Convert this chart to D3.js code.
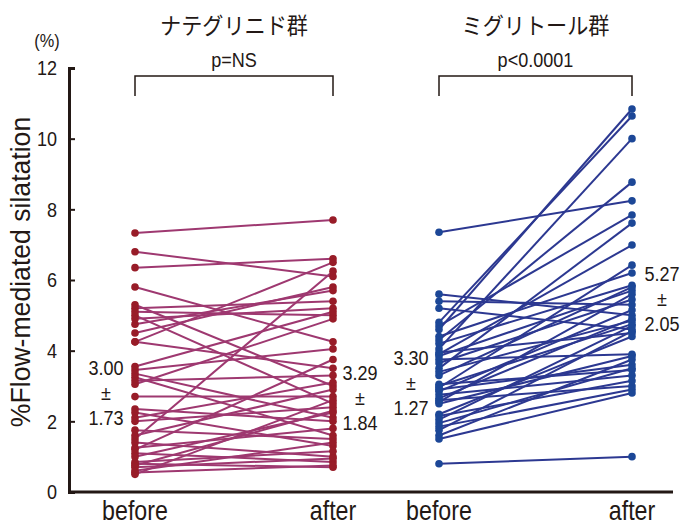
<!DOCTYPE html>
<html>
<head>
<meta charset="utf-8">
<script src="https://cdn.jsdelivr.net/npm/d3@7"></script>
<style>
  body { margin: 0; background: #fff; }
  text { font-family: "Liberation Sans", Arial, sans-serif; fill: #231815; }
  .jp { font-family: "Noto Sans CJK JP", sans-serif; }
</style>
</head>
<body>
<div id="chart"></div>
<script>
// group titles, p values, summary labels
const groups = ['ナテグリニド群', 'ミグリトール群'];
const pValues = ['p=NS', 'p<0.0001'];
const timeLabels = ['before', 'after'];
const yTicks = [0, 2, 4, 6, 8, 10, 12];
const summaryBefore = [['3.00', '1.73'], ['3.30', '1.27']];
const summaryAfter = [['3.29', '1.84'], ['5.27', '2.05']];

// [before, after] per patient, nateglinide
const nateglinide = [
	[7.33,7.7],[6.8,6.1],[6.35,6.6],[5.8,4.25],[5.3,3.0],[5.2,5.4],[5.1,5.0],[5.0,2.5],
	[4.9,5.2],[4.75,5.7],[4.5,5.8],[4.25,6.5],[4.25,3.5],[3.55,5.1],[3.45,4.05],[3.35,2.1],
	[3.25,1.6],[3.15,3.3],[3.05,4.9],[2.7,2.7],[2.35,2.0],[2.25,1.3],[2.1,3.1],[2.0,2.4],
	[1.75,1.5],[1.6,2.9],[1.5,6.25],[1.4,1.0],[1.25,1.8],[1.2,3.75],[1.1,0.85],[1.0,2.25],
	[0.85,1.15],[0.8,0.7],[0.75,2.3],[0.7,0.95],[0.6,1.4],[0.55,0.75],[0.5,2.6]
];

// [before, after] per patient, miglitol
const miglitol = [
	[7.35,8.24],[5.6,5.0],[5.4,5.3],[5.2,4.6],[4.8,10.64],[4.7,7.84],[4.6,10.84],[4.4,6.2],
	[4.3,8.77],[4.2,5.85],[4.05,10.0],[3.95,4.5],[3.9,6.99],[3.85,5.7],[3.75,3.9],[3.65,5.45],
	[3.5,7.61],[3.4,4.85],[3.3,5.8],[3.05,3.45],[3.0,4.75],[2.95,6.42],[2.9,3.6],[2.85,5.15],
	[2.75,3.3],[2.65,4.9],[2.6,3.0],[2.55,5.6],[2.5,3.85],[2.2,4.4],[2.15,3.15],[2.05,4.7],
	[1.95,3.5],[1.85,2.9],[1.75,4.55],[1.6,3.75],[1.5,2.8],[0.8,1.0]
];

const W = 686, H = 527;
const axisColor = '#231815';
const narrow = 0.86; //condensed look of the original type
const panels = [
	{data: nateglinide, x0: 135, x1: 333, line: '#9e3870', dot: '#981c28'},
	{data: miglitol, x0: 439, x1: 632, line: '#2c3891', dot: '#1c4797'}
];

const svg = d3.select('#chart').append('svg')
	.attr('width', W)
	.attr('height', H);

//narrow text helper
function label(parent, x, yy, t, size, anchor) {
	return parent.append('text')
		.attr('transform', `translate(${x},${yy}) scale(${narrow},1)`)
		.attr('text-anchor', anchor || 'middle')
		.style('font-size', size + 'px')
		.text(t);
}

const y = d3.scaleLinear().domain([0, 12]).range([492, 68]);

//axes
const yAxis = svg.append('g')
	.attr('transform', 'translate(69,0)')
	.call(d3.axisLeft(y).tickValues(yTicks).tickSize(-6).tickPadding(12));
yAxis.select('.domain').attr('stroke', axisColor).attr('stroke-width', 3);
yAxis.selectAll('.tick line').attr('stroke', axisColor).attr('stroke-width', 2);
yAxis.selectAll('.tick text')
	.style('font-size', '21px')
	.attr('fill', axisColor)
	.attr('transform', `scale(${narrow},1)`)
	.attr('x', -12 / narrow);

svg.append('line')
	.attr('x1', 68).attr('x2', 673)
	.attr('y1', y(0)).attr('y2', y(0))
	.attr('stroke', axisColor).attr('stroke-width', 3);

svg.append('text')
	.attr('transform', `translate(30,${y(6) - 8}) rotate(-90) scale(0.95,1)`)
	.attr('text-anchor', 'middle')
	.style('font-size', '28px')
	.text('%Flow-mediated silatation');

label(svg, 47, 47, '(%)', 19);

//panels
panels.forEach((p, i) => {
	const x = d3.scaleLinear().domain([0, 1]).range([p.x0, p.x1]);
	const g = svg.append('g').attr('class', 'panel');
	const mid = (p.x0 + p.x1) / 2;

	g.append('text')
		.attr('class', 'jp')
		.attr('transform', `translate(${mid},34) scale(0.92,1)`)
		.attr('text-anchor', 'middle')
		.style('font-size', '23px')
		.text(groups[i]);

	label(g, mid, 67, pValues[i], 21);

	g.append('path')
		.attr('d', `M${x(0)},96V76H${x(1)}V96`)
		.attr('fill', 'none')
		.attr('stroke', axisColor)
		.attr('stroke-width', 1.5);

	g.selectAll('.pair')
		.data(p.data)
		.enter()
		.append('line')
		.attr('class', 'pair')
		.attr('x1', x(0)).attr('x2', x(1))
		.attr('y1', d => y(d[0])).attr('y2', d => y(d[1]))
		.attr('stroke', p.line)
		.attr('stroke-width', 2);

	g.selectAll('.dot-before')
		.data(p.data)
		.enter()
		.append('circle')
		.attr('cx', x(0)).attr('cy', d => y(d[0]))
		.attr('r', 3.8)
		.attr('fill', p.dot);

	g.selectAll('.dot-after')
		.data(p.data)
		.enter()
		.append('circle')
		.attr('cx', x(1)).attr('cy', d => y(d[1]))
		.attr('r', 3.8)
		.attr('fill', p.dot);

	timeLabels.forEach((t, j) => {
		label(g, x(j), 520, t, 27);
	});

	//mean ± SD
	const drawSummary = (xc, yc, s) => {
		[s[0], '±', s[1]].forEach((t, k) => {
			label(g, xc, yc + k * 25, t, 21);
		});
	};
	if (i === 0) {
		drawSummary(x(0) - 29, 375, summaryBefore[i]);
		drawSummary(x(1) + 27, 380, summaryAfter[i]);
	} else {
		drawSummary(x(0) - 28, 365, summaryBefore[i]);
		drawSummary(x(1) + 30, 281, summaryAfter[i]);
	}
});
</script>
</body>
</html>
